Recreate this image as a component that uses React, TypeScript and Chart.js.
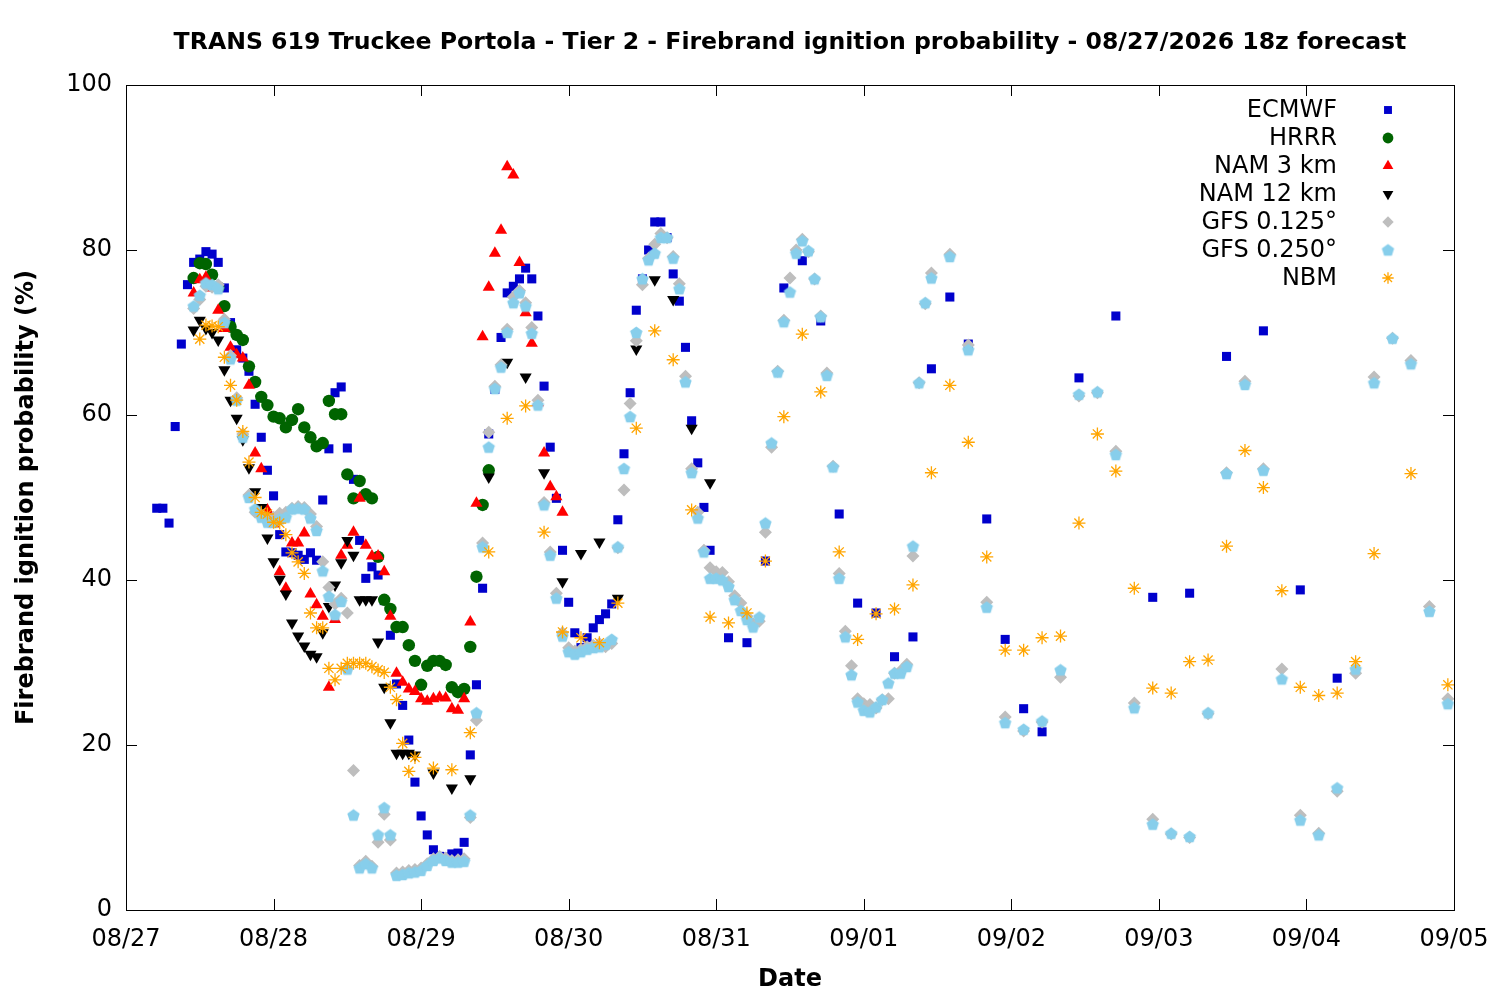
import { useEffect, useRef } from 'react'
import { Chart, registerables } from 'chart.js'
import { drawPoint } from 'chart.js/helpers'

Chart.register(...registerables)

const FONT = "'DejaVu Sans', 'Liberation Sans', sans-serif"

const chartTitle =
  'TRANS 619 Truckee Portola - Tier 2 - Firebrand ignition probability - 08/27/2026 18z forecast'
const xTitle = 'Date'
const yTitle = 'Firebrand ignition probability (%)'

// hours since 08/27 00 local, one tick per day
const dateLabels = ['08/27', '08/28', '08/29', '08/30', '08/31', '09/01', '09/02', '09/03', '09/04', '09/05']
const yTicks = [0, 20, 40, 60, 80, 100]

const ecmwfHours = [
  5, 6, 7, 8, 9, 10, 11, 12, 13, 14, 15, 16, 17, 18, 19, 20, 21, 22, 23, 24, 25, 26, 27, 28, 29, 30,
  31, 32, 33, 34, 35, 36, 37, 38, 39, 40, 41, 42, 43, 44, 45, 46, 47, 48, 49, 50, 51, 52, 53, 54, 55,
  56, 57, 58, 59, 60, 61, 62, 63, 64, 65, 66, 67, 68, 69, 70, 71, 72, 73, 74, 75, 76, 77, 78, 79, 80,
  81, 82, 83, 84, 85, 86, 87, 88, 89, 90, 91, 92, 93, 94, 95,
  98, 101, 104, 107, 110, 113, 116, 119, 122, 125, 128, 131, 134, 137, 140, 143, 146, 149,
  155, 161, 167, 173, 179, 185, 191, 197,
]
const ecmwfValues = [
  48.7, 48.7, 46.9, 58.6, 68.6, 75.8, 78.5, 78.9, 79.8, 79.5,
  78.5, 75.4, 71.2, 67.9, 66.9, 65.3, 61.3, 57.3, 53.3, 50.2,
  45.5, 43.4, 43.3, 43, 42.5, 43.3, 42.4, 49.7, 55.9, 62.7,
  63.4, 56, 52.2, 44.8, 40.2, 41.6, 40.6, 37.5, 33.3, 27.4,
  24.8, 20.6, 15.5, 11.4, 9.1, 7.3, 6.5, 6.4, 6.8, 6.9,
  8.2, 18.8, 27.3, 39, 57.7, 63.1, 69.4, 74.8, 75.6, 76.5,
  77.8, 76.5, 72, 63.5, 56.1, 49.9, 43.6, 37.3, 33.6, 31.8,
  33, 34.2, 35.2, 35.9, 37.1, 47.3, 55.3, 62.7, 72.7, 76.5,
  80, 83.4, 83.4, 81.5, 77.1, 73.8, 68.2, 59.3, 54.2, 48.8,
  43.6,
  33, 32.4, 42.3, 75.4, 78.7, 71.4, 48, 37.2, 36, 30.7, 33.1, 65.6, 74.3, 68.6, 47.4, 32.8, 24.4, 21.6,
  64.5, 72, 37.9, 38.4, 67.1, 70.2, 38.8, 28.1,
]

const hrrrHours = [
  11, 12, 13, 14, 15, 16, 17, 18, 19, 20, 21, 22, 23, 24, 25, 26, 27, 28, 29, 30, 31, 32, 33, 34, 35,
  36, 37, 38, 39, 40, 41, 42, 43, 44, 45, 46, 47, 48, 49, 50, 51, 52, 53, 54, 55, 56, 57, 58, 59,
]
const hrrrValues = [
  76.6, 78.4, 78.3, 77, 75.5, 73.2, 70.7, 69.7, 69.1, 65.9,
  64, 62.2, 61.2, 59.8, 59.6, 58.5, 59.4, 60.7, 58.5, 57.3,
  56.2, 56.6, 61.7, 60.1, 60.1, 52.8, 49.9, 52, 50.4, 49.9,
  42.8, 37.6, 36.5, 34.3, 34.3, 32.1, 30.2, 27.3, 29.6, 30.2,
  30.2, 29.7, 27, 26.4, 26.8, 31.9, 40.4, 49.1, 53.3,
]

const nam3Hours = [
  11, 12, 13, 14, 15, 16, 17, 18, 19, 20, 21, 22, 23, 24, 25, 26, 27, 28, 29, 30, 31, 32, 33, 34, 35,
  36, 37, 38, 39, 40, 41, 42, 43, 44, 45, 46, 47, 48, 49, 50, 51, 52, 53, 54, 55, 56, 57, 58, 59, 60,
  61, 62, 63, 64, 65, 66, 67, 68, 69, 70, 71,
]
const nam3Values = [
  74.8, 76.4, 76.7, 75.4, 72.7, 70.5, 68.2, 67.3, 66.9, 63.6,
  55.4, 53.5, 48.5, 46.8, 41, 39, 44.5, 44.5, 45.7, 38.3,
  37, 35.6, 27, 35.2, 43, 44.2, 45.8, 49.9, 44.2, 42.9,
  42.9, 41, 35.6, 28.7, 27.6, 26.8, 26.5, 25.6, 25.3, 25.6,
  25.8, 25.7, 24.4, 24.2, 25.6, 34.9, 49.3, 69.5, 75.5, 79.6,
  82.4, 90.1, 89.1, 78.5, 72.4, 68.7, 61.5, 55.4, 51.3, 50.1, 48.2,
]

const nam12Hours = [
  11, 12, 13, 14, 15, 16, 17, 18, 19, 20, 21, 22, 23, 24, 25, 26, 27, 28, 29, 30, 31, 32, 33, 34, 35,
  36, 37, 38, 39, 40, 41, 42, 43, 44, 45, 46, 47,
  50, 53, 56, 59, 62, 65, 68, 71, 74, 77, 80, 83, 86, 89, 92, 95,
]
const nam12Values = [
  70.3, 71.5, 70.5, 70, 69.1, 65.5, 61.8, 59.6, 57, 53.6,
  50.7, 48.8, 45.1, 42.2, 40.1, 38.3, 34.8, 33.2, 32, 31,
  30.7, 33.6, 36.8, 39.4, 42.1, 44.8, 43, 37.6, 37.6, 37.6,
  32.5, 27, 22.7, 19, 19, 19, 18.8,
  16.6, 14.8, 15.9, 52.5, 66.4, 64.6, 53, 39.8, 43.2, 44.6, 37.8, 68, 76.4, 74, 58.4, 51.8,
]

const gfsHours = [
  11, 12, 13, 14, 15, 16, 17, 18, 19, 20, 21, 22, 23, 24, 25, 26, 27, 28, 29, 30, 31, 32, 33, 34, 35,
  36, 37, 38, 39, 40, 41, 42, 43, 44, 45, 46, 47, 48, 49, 50, 51, 52, 53, 54, 55, 56, 57, 58, 59, 60,
  61, 62, 63, 64, 65, 66, 67, 68, 69, 70, 71, 72, 73, 74, 75, 76, 77, 78, 79, 80, 81, 82, 83, 84, 85,
  86, 87, 88, 89, 90, 91, 92, 93, 94, 95, 96, 97, 98, 99, 100, 101, 102, 103, 104, 105, 106, 107, 108,
  109, 110, 111, 112, 113, 114, 115, 116, 117, 118, 119, 120, 121, 122, 123, 124, 125, 126, 127, 128,
  129, 130, 131,
  134, 137, 140, 143, 146, 149, 152, 155, 158, 161, 164, 167, 170, 173, 176, 179, 182, 185, 188, 191,
  194, 197, 200, 203, 206, 209, 212, 215,
]
const gfs125Values = [
  72.9, 74, 75.6, 75.5, 75.8, 71.6, 67.2, 62.1, 57.7, 50.3,
  48.2, 47.9, 47.3, 47.6, 48.1, 48.2, 48.7, 48.9, 48.8, 48,
  46.5, 42.2, 39.1, 37.1, 37.8, 36, 16.9, 5.4, 5.9, 5.3,
  8.2, 11.6, 8.5, 4.5, 4.6, 4.8, 4.9, 5.1, 5.6, 6.2,
  6.5, 6.3, 6, 6.1, 6.2, 11.2, 23, 44.5, 57.9, 63.5,
  66.1, 70.4, 74.3, 75.1, 73.6, 70.6, 61.8, 49.4, 43.4, 38.4,
  33.6, 31.8, 31.4, 31.6, 31.9, 32.1, 32.3, 31.9, 32.3, 43.9,
  50.9, 61.4, 69, 75.8, 79, 80.7, 82, 81.5, 79.2, 75.9,
  64.7, 53.5, 48.2, 43.6, 41.5, 41, 40.9, 39.8, 38.1, 37.2,
  35.6, 34.7, 35, 45.8, 56.1, 65.3, 71.5, 76.6, 80, 81.3,
  79.8, 76.5, 72, 65.1, 53.8, 40.8, 33.8, 29.6, 25.6, 25,
  24.9, 24.5, 25.5, 25.6, 28.7, 29, 29.8, 42.9, 63.9, 73.5, 77.2,
  79.5, 68.5, 37.3, 23.4, 21.7, 22.8, 28.2, 62.3, 62.7, 55.6, 25.1, 11, 9.2, 8.8,
  23.8, 53, 64.1, 53.5, 29.2, 11.5, 9.3, 14.4, 28.7, 64.6, 69.3, 66.6, 36.8, 25.6,
]
const gfs250Values = [
  73.2, 74.5, 76, 75.8, 75.3, 71.2, 66.8, 61.8, 57.3, 50,
  48.6, 47.6, 47, 47, 47.4, 47.6, 48.6, 48.7, 48.6, 47.5,
  46, 41.1, 38, 35.8, 37.4, 29.2, 11.5, 5.1, 5.6, 5.1,
  9.1, 12.4, 9.1, 4.2, 4.3, 4.5, 4.6, 4.8, 5.4, 6,
  6.3, 6, 5.8, 5.8, 5.9, 11.5, 23.9, 44, 56.1, 63.2,
  65.8, 70, 73.6, 74.8, 73.2, 69.9, 61.2, 49.1, 43, 37.8,
  33.2, 31.3, 31, 31.3, 31.6, 31.8, 31.9, 32.2, 32.8, 44,
  53.5, 59.8, 70, 76.5, 78.8, 79.6, 81.5, 81.5, 79, 75.3,
  64, 53, 47.5, 43.4, 40.2, 40.2, 40, 39.2, 37.6, 36.3,
  35.2, 34.3, 35.5, 46.9, 56.6, 65.2, 71.3, 74.9, 79.6, 81.1,
  79.9, 76.5, 71.9, 64.8, 53.7, 40.2, 33.1, 28.5, 25.2, 24.2,
  24, 24.6, 25.5, 27.5, 28.7, 28.7, 29.5, 44.1, 63.9, 73.6, 76.6,
  79.2, 67.9, 36.7, 22.7, 21.9, 22.9, 29.1, 62.5, 62.8, 55.2, 24.5, 10.4, 9.3, 8.9,
  23.9, 52.9, 63.7, 53.3, 28, 10.9, 9.1, 14.8, 29.2, 63.9, 69.3, 66.2, 36.2, 25,
]

const nbmHours = [
  12, 13, 14, 15, 16, 17, 18, 19, 20, 21, 22, 23, 24, 25, 26, 27, 28, 29, 30, 31, 32, 33, 34, 35, 36,
  37, 38, 39, 40, 41, 42, 43, 44, 45, 46, 47,
  50, 53, 56, 59, 62, 65, 68, 71, 74, 77, 80, 83, 86, 89, 92, 95, 98, 101, 104, 107, 110, 113, 116,
  119, 122, 125, 128, 131, 134, 137, 140, 143, 146, 149, 152, 155, 158, 161, 164, 167, 170, 173, 176,
  179, 182, 185, 188, 191, 194, 197, 200, 203,
  209, 215,
]
const nbmValues = [
  69.2, 70.9, 70.8, 70.7, 67, 63.6, 61.8, 58, 54.3, 50,
  48.2, 48, 47, 46.9, 45.5, 43.3, 42.2, 40.8, 36, 34.2,
  34.2, 29.3, 27.9, 29.3, 29.9, 29.9, 29.9, 29.9, 29.5, 29.1,
  28.8, 27, 25.5, 20.2, 16.8, 18.5,
  17.2, 17, 21.5, 43.4, 59.6, 61.1, 45.8, 33.7, 33, 32.4,
  37.2, 58.4, 70.2, 66.7, 48.5, 35.5, 34.8, 36, 42.3, 59.8,
  69.8, 62.8, 43.4, 32.8, 35.9, 36.5, 39.4, 53, 63.6, 56.7,
  42.8, 31.5, 31.5, 33, 33.2, 46.9, 57.7, 53.2, 39, 26.9,
  26.3, 30.1, 30.3, 44.1, 55.7, 51.2, 38.7, 27, 26, 26.3,
  30.1, 43.2,
  52.9, 27.3,
]

function toPoints(hours: number[], values: number[]) {
  return hours.map((h, i) => ({ x: h, y: values[i] }))
}

function makePentagon(color: string, r: number): HTMLCanvasElement {
  const size = Math.ceil(r * 2 + 2)
  const c = document.createElement('canvas')
  c.width = size
  c.height = size
  const ctx = c.getContext('2d')!
  ctx.fillStyle = color
  ctx.beginPath()
  for (let i = 0; i < 5; i++) {
    const a = -Math.PI / 2 + (i * 2 * Math.PI) / 5
    const px = size / 2 + r * Math.cos(a)
    const py = size / 2 + r * Math.sin(a) + 0.5
    if (i === 0) ctx.moveTo(px, py)
    else ctx.lineTo(px, py)
  }
  ctx.closePath()
  ctx.fill()
  return c
}

export default function App() {
  const chartRef = useRef<HTMLCanvasElement>(null)
  const chartInstance = useRef<Chart | null>(null)

  useEffect(() => {
    document.body.style.margin = '0'
    if (!chartRef.current) return
    if (chartInstance.current) chartInstance.current.destroy()
    const ctx = chartRef.current.getContext('2d')
    if (!ctx) return

    const pentagon = makePentagon('#87ceeb', 6.5)

    const series = [
      { label: 'ECMWF', data: toPoints(ecmwfHours, ecmwfValues), color: '#0000cc', style: 'rect', radius: 6.4, rotation: 0, border: 0, order: 7 },
      { label: 'HRRR', data: toPoints(hrrrHours, hrrrValues), color: '#006400', style: 'circle', radius: 6.2, rotation: 0, border: 0, order: 6 },
      { label: 'NAM 3 km', data: toPoints(nam3Hours, nam3Values), color: '#ff0000', style: 'triangle', radius: 7, rotation: 0, border: 0, order: 5 },
      { label: 'NAM 12 km', data: toPoints(nam12Hours, nam12Values), color: '#000000', style: 'triangle', radius: 7, rotation: 180, border: 0, order: 4 },
      { label: 'GFS 0.125°', data: toPoints(gfsHours, gfs125Values), color: '#bebebe', style: 'rectRot', radius: 6.5, rotation: 0, border: 0, order: 3 },
      { label: 'GFS 0.250°', data: toPoints(gfsHours, gfs250Values), color: '#87ceeb', style: pentagon, radius: 6.5, rotation: 0, border: 0, order: 2 },
      { label: 'NBM', data: toPoints(nbmHours, nbmValues), color: '#ffa500', style: 'star', radius: 6.5, rotation: 0, border: 1.3, order: 1 },
    ]

    const framePlugin = {
      id: 'gnuplotFrame',
      afterDraw(chart: Chart) {
        const { ctx: c, chartArea: a } = chart
        const xs = chart.scales.x
        const ys = chart.scales.y
        c.save()
        c.strokeStyle = '#000'
        c.lineWidth = 1
        c.strokeRect(Math.round(a.left) + 0.5, Math.round(a.top) + 0.5, Math.round(a.right - a.left), Math.round(a.bottom - a.top))
        const tick = 11
        c.beginPath()
        dateLabels.forEach((_, i) => {
          const px = Math.round(xs.getPixelForValue(i * 24)) + 0.5
          c.moveTo(px, a.bottom)
          c.lineTo(px, a.bottom - tick)
          c.moveTo(px, a.top)
          c.lineTo(px, a.top + tick)
        })
        yTicks.forEach((v) => {
          const py = Math.round(ys.getPixelForValue(v)) + 0.5
          c.moveTo(a.left, py)
          c.lineTo(a.left + tick, py)
          c.moveTo(a.right, py)
          c.lineTo(a.right - tick, py)
        })
        c.stroke()

        // titles
        c.fillStyle = '#000'
        c.textAlign = 'center'
        c.textBaseline = 'middle'
        c.font = `bold 23.6px ${FONT}`
        c.fillText(chartTitle, (a.left + a.right) / 2, 43)
        c.font = `bold 24px ${FONT}`
        c.fillText(xTitle, (a.left + a.right) / 2, 980)
        c.save()
        c.translate(27, (a.top + a.bottom) / 2)
        c.rotate(-Math.PI / 2)
        c.fillText(yTitle, 0, 0)
        c.restore()

        // legend, text right aligned then marker
        c.font = `24px ${FONT}`
        c.textAlign = 'right'
        series.forEach((s, i) => {
          const y = 110 + i * 28
          c.fillStyle = '#000'
          c.fillText(s.label, 1337, y + 1)
          c.fillStyle = s.color
          c.strokeStyle = s.color
          c.lineWidth = s.border || 1
          drawPoint(c, { pointStyle: s.style, radius: s.radius - 0.8, rotation: s.rotation, borderWidth: s.border }, 1388, y)
        })
        c.restore()
      },
    }

    chartInstance.current = new Chart(ctx, {
      type: 'scatter',
      data: {
        datasets: series.map((s) => ({
          label: s.label,
          data: s.data,
          order: s.order,
          showLine: false,
          pointStyle: s.style as any,
          pointRadius: s.radius,
          pointRotation: s.rotation,
          pointBackgroundColor: s.color,
          pointBorderColor: s.color,
          pointBorderWidth: s.border,
        })),
      },
      options: {
        animation: false,
        responsive: false,
        maintainAspectRatio: false,
        layout: { padding: { top: 85, right: 46, bottom: 0, left: 0 } },
        plugins: {
          legend: { display: false },
          title: { display: false },
          tooltip: { enabled: false },
        },
        scales: {
          x: {
            type: 'linear',
            min: 0,
            max: 216,
            grid: { display: false, drawTicks: false },
            border: { display: false },
            ticks: {
              stepSize: 24,
              autoSkip: false,
              maxRotation: 0,
              padding: 15,
              color: '#000',
              font: { family: FONT, size: 24 },
              callback: (value) => dateLabels[Math.round(Number(value) / 24)] ?? '',
            },
            afterFit: (scale: any) => {
              scale.height = 90
              scale.paddingLeft = 0
              scale.paddingRight = 0
            },
          },
          y: {
            type: 'linear',
            min: 0,
            max: 100,
            grid: { display: false, drawTicks: false },
            border: { display: false },
            ticks: {
              stepSize: 20,
              padding: 14,
              color: '#000',
              font: { family: FONT, size: 24 },
            },
            afterFit: (scale: any) => {
              scale.width = 126
              scale.paddingTop = 0
              scale.paddingBottom = 0
            },
          },
        },
      },
      plugins: [framePlugin],
    })

    return () => {
      if (chartInstance.current) {
        chartInstance.current.destroy()
        chartInstance.current = null
      }
    }
  }, [])

  return (
    <div style={{ width: 1500, height: 1000, background: '#fff' }}>
      <canvas ref={chartRef} width={1500} height={1000} style={{ width: 1500, height: 1000 }}></canvas>
    </div>
  )
}
